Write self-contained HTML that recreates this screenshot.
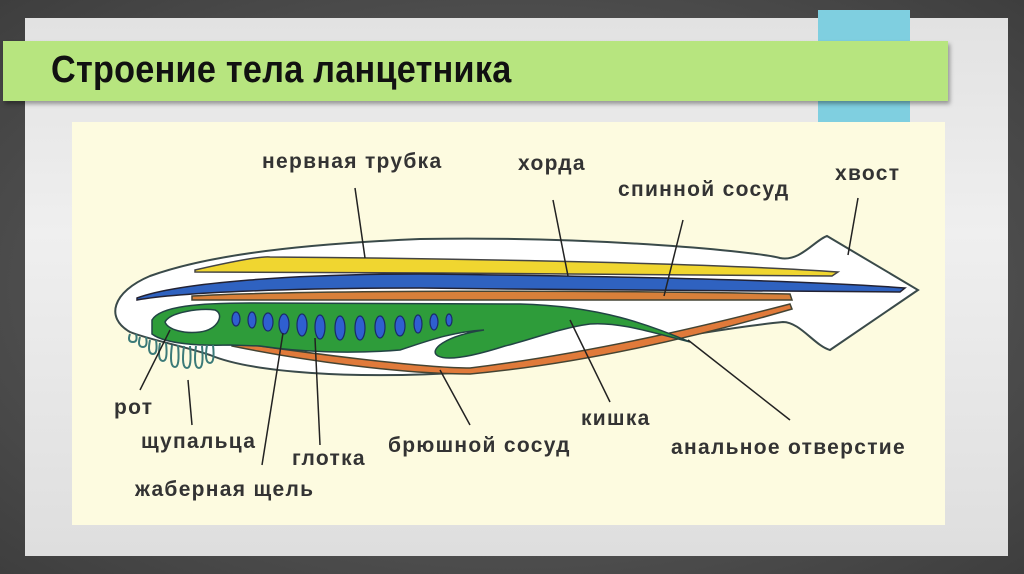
<!DOCTYPE html>
<html><head><meta charset="utf-8"><style>
html,body{margin:0;padding:0;}
body{width:1024px;height:574px;background:radial-gradient(ellipse at center,#6a6a6a,#3e3e3e);position:relative;overflow:hidden;font-family:"Liberation Sans",sans-serif;}
.panel{position:absolute;left:25px;top:18px;width:983px;height:538px;background:linear-gradient(#e2e2e2,#efefef 40%,#dedede);}
.tab{position:absolute;left:818px;top:10px;width:92px;height:112px;background:#7fcfe0;}
.banner{position:absolute;left:3px;top:41px;width:945px;height:60px;background:#b7e57f;box-shadow:2px 3px 4px rgba(0,0,0,.35);}
.banner span{position:absolute;left:48px;top:8px;font-size:38px;font-weight:bold;color:#111;letter-spacing:0.3px;transform:scaleX(0.9);transform-origin:0 0;white-space:nowrap;}
.dia{position:absolute;left:72px;top:122px;width:873px;height:403px;background:#fdfbe0;}
</style></head><body>
<div class="panel"></div>
<div class="tab"></div>
<div class="banner"><span>Строение тела ланцетника</span></div>
<div class="dia"></div>
<svg width="1024" height="574" style="position:absolute;left:0;top:0" font-family="Liberation Sans, sans-serif" font-weight="bold" font-size="21" letter-spacing="1.3" fill="#333">
<path d="M130,332 C105,318 112,292 150,276 C200,258 280,245 420,239 C600,236 760,252 780,258 C800,262 815,240 827,236 L918,290 L830,350 C815,346 800,322 783,322 C700,330 560,360 470,372 C350,380 250,372 210,355 C180,345 150,340 130,332 Z" fill="#fff" stroke="#3a4a4a" stroke-width="2"/>
<path d="M195,270 C230,262 260,256 270,257 C400,258 700,262 838,272 L832,276 C700,275 400,272 195,272 Z" fill="#f0d630" stroke="#444" stroke-width="1.5"/>
<path d="M137,298 C180,282 300,274 420,274 C600,276 800,280 905,288 L900,292 C800,292 600,290 420,288 C300,288 180,292 137,300 Z" fill="#2f62c0" stroke="#223" stroke-width="1.5"/>
<path d="M192,296 C300,290 600,290 790,294 L792,300 C600,300 300,300 192,300 Z" fill="#d8803a" stroke="#443" stroke-width="1.5"/>
<path d="M232,342 C300,352 420,368 470,368 C600,352 720,322 790,304 L792,309 C720,330 600,362 470,374 C400,374 300,360 232,346 Z" fill="#e07a3a" stroke="#443" stroke-width="1.5"/>
<path d="M152,320 C160,306 200,303 250,303 L520,304 C600,306 650,325 690,342 C650,332 620,322 590,324 C560,328 530,340 505,346 C480,354 450,362 438,356 C428,350 445,336 484,330 C450,332 425,342 400,350 C350,354 300,352 260,346 L230,345 C200,346 165,344 152,334 Z" fill="#2e9c3a" stroke="#244" stroke-width="1.5"/>
<path d="M165,322 C170,312 200,308 215,310 C225,314 218,330 200,332 C185,334 168,330 165,322 Z" fill="#fff" stroke="#244" stroke-width="1.5"/>
<g fill="#2f5fd0" stroke="#1a2a6a" stroke-width="1.2">
<ellipse cx="236" cy="319" rx="4" ry="7"/><ellipse cx="252" cy="320" rx="4" ry="8"/><ellipse cx="268" cy="322" rx="5" ry="9"/><ellipse cx="284" cy="324" rx="5" ry="10"/><ellipse cx="302" cy="325" rx="5" ry="11"/><ellipse cx="320" cy="327" rx="5" ry="12"/><ellipse cx="340" cy="328" rx="5" ry="12"/><ellipse cx="360" cy="328" rx="5" ry="12"/><ellipse cx="380" cy="327" rx="5" ry="11"/><ellipse cx="400" cy="326" rx="5" ry="10"/><ellipse cx="418" cy="324" rx="4" ry="9"/><ellipse cx="434" cy="322" rx="4" ry="8"/><ellipse cx="449" cy="320" rx="3" ry="6"/>
</g>
<path d="M130,334 q-3,8 3,8 q5,0 3,-8 M140,337 q-3,10 3,10 q5,0 3,-10 M150,340 q-3,14 3,14 q5,0 3,-14 M160,343 q-3,18 3,18 q5,0 3,-18 M172,345 q-3,22 3,22 q5,0 3,-22 M184,346 q-3,22 3,22 q5,0 3,-22 M196,346 q-3,22 3,22 q5,0 3,-22 M207,345 q-3,18 3,18 q5,0 3,-18" fill="none" stroke="#3b7a78" stroke-width="2"/>
<g stroke="#222" stroke-width="1.5">
<line x1="355" y1="188" x2="365" y2="258"/>
<line x1="553" y1="200" x2="568" y2="276"/>
<line x1="683" y1="220" x2="664" y2="296"/>
<line x1="858" y1="198" x2="848" y2="255"/>
<line x1="170" y1="330" x2="140" y2="390"/>
<line x1="188" y1="380" x2="192" y2="425"/>
<line x1="283" y1="333" x2="262" y2="465"/>
<line x1="315" y1="338" x2="320" y2="445"/>
<line x1="440" y1="370" x2="470" y2="425"/>
<line x1="570" y1="320" x2="610" y2="402"/>
<line x1="688" y1="340" x2="790" y2="420"/>
</g>
<text x="262" y="168">нервная трубка</text>
<text x="518" y="170">хорда</text>
<text x="618" y="196">спинной сосуд</text>
<text x="835" y="180">хвост</text>
<text x="114" y="414">рот</text>
<text x="141" y="448">щупальца</text>
<text x="292" y="465">глотка</text>
<text x="388" y="452">брюшной сосуд</text>
<text x="581" y="425">кишка</text>
<text x="671" y="454">анальное отверстие</text>
<text x="135" y="496">жаберная щель</text>
</svg>
</body></html>
